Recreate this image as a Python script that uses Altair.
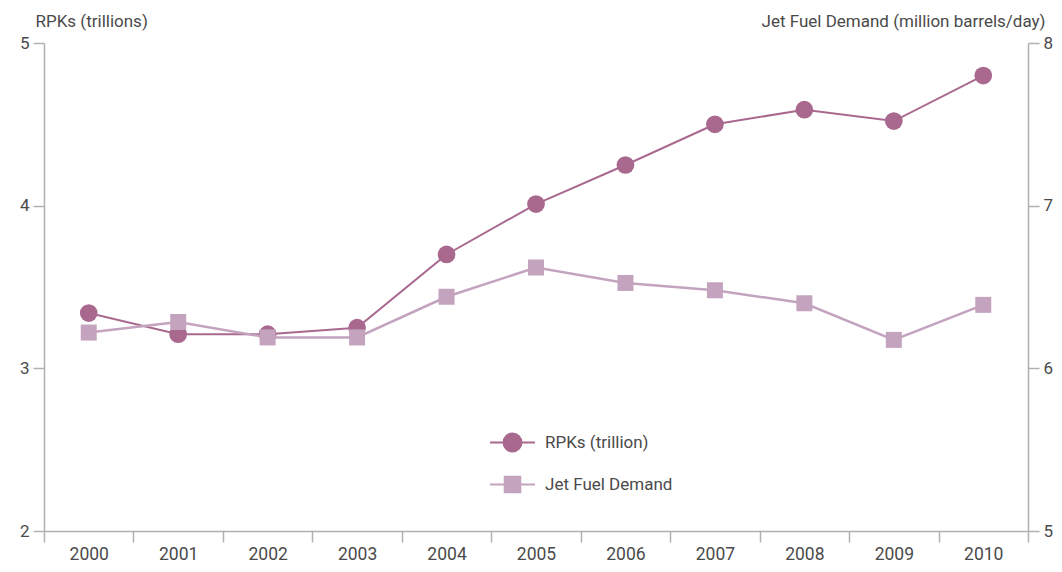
import altair as alt
import pandas as pd

years = ["2000", "2001", "2002", "2003", "2004", "2005", "2006", "2007", "2008", "2009", "2010"]
rpks = [3.34, 3.21, 3.21, 3.25, 3.70, 4.01, 4.25, 4.50, 4.59, 4.52, 4.80]
jet_fuel = [6.22, 6.285, 6.19, 6.19, 6.44, 6.62, 6.525, 6.48, 6.40, 6.175, 6.39]
series_names = ["RPKs (trillion)", "Jet Fuel Demand"]
series_colors = ["#a9698f", "#c4a3bf"]

FONT = "Roboto"
TXT = "#4a4a4a"
AX = "#b0b0b0"

df_r = pd.DataFrame({"year": years, "value": rpks, "series": series_names[0]})
df_j = pd.DataFrame({"year": years, "value": jet_fuel, "series": series_names[1]})

xenc = alt.X(
    "year:O",
    scale=alt.Scale(type="band", paddingInner=0, paddingOuter=0),
    axis=alt.Axis(
        title=None, labelAngle=0, tickBand="extent", domainColor=AX, tickColor=AX,
        domainWidth=1.5, tickWidth=1.5, tickSize=11, labelPadding=3,
        labelFontSize=17.5, labelColor=TXT, labelFont=FONT,
    ),
)

color_scale = alt.Scale(domain=series_names, range=series_colors)

circle_leg = "M-1.1,0L1.1,0M-0.44,0A0.44,0.44 0 1,1 0.44,0A0.44,0.44 0 1,1 -0.44,0Z"
square_leg = "M-1.1,0L1.1,0M-0.38,-0.38L0.38,-0.38L0.38,0.38L-0.38,0.38Z"

left_axis = alt.Axis(
    title="RPKs (trillions)", titleAngle=0, titleAlign="left", titleBaseline="bottom",
    titleX=-9, titleY=-13, titleFontSize=17, titleFontWeight="normal", titleColor=TXT,
    titleFont=FONT, values=[2, 3, 4, 5], format="d", grid=False, domainColor=AX,
    tickColor=AX, domainWidth=1.5, tickWidth=1.5, tickSize=11, labelPadding=4,
    labelFontSize=17, labelColor=TXT, labelFont=FONT,
)
right_axis = alt.Axis(
    orient="right",
    title="Jet Fuel Demand (million barrels/day)", titleAngle=0, titleAlign="right",
    titleBaseline="bottom", titleX=17, titleY=-13, titleFontSize=17,
    titleFontWeight="normal", titleColor=TXT, titleFont=FONT, values=[5, 6, 7, 8],
    format="d", grid=False, domainColor=AX, tickColor=AX, domainWidth=1.5,
    tickWidth=1.5, tickSize=11, labelPadding=4, labelFontSize=17, labelColor=TXT,
    labelFont=FONT,
)

y_left = alt.Y("value:Q", scale=alt.Scale(domain=[2, 5], nice=False, zero=False), axis=left_axis)
y_right = alt.Y("value:Q", scale=alt.Scale(domain=[5, 8], nice=False, zero=False), axis=right_axis)

def layer_for(df, yenc, shape, size, width):
    line = alt.Chart(df).mark_line(strokeWidth=width).encode(
        x=xenc, y=yenc,
        color=alt.Color("series:N", scale=color_scale, legend=None),
    )
    pts = alt.Chart(df).mark_point(filled=True, opacity=1, size=size, shape=shape).encode(
        x=xenc, y=yenc,
        color=alt.Color("series:N", scale=color_scale, legend=None),
    )
    return line + pts

left = layer_for(df_r, y_left, "circle", 314, 2)
right = layer_for(df_j, y_right, "square", 256, 2.5)

df_all = pd.concat([df_r, df_j])
legend_layer = alt.Chart(df_all).mark_point(filled=False, opacity=0, strokeWidth=2).encode(
    x=xenc,
    y=alt.Y("value:Q", scale=alt.Scale(domain=[2, 8]), axis=None),
    stroke=alt.Stroke("series:N", scale=alt.Scale(domain=series_names, range=series_colors),
                      legend=alt.Legend(title=None)),
    fill=alt.Fill("series:N", scale=alt.Scale(domain=series_names, range=series_colors),
                  legend=alt.Legend(title=None)),
    shape=alt.Shape("series:N", scale=alt.Scale(domain=series_names, range=[circle_leg, square_leg]),
                    legend=alt.Legend(title=None)),
)

chart = alt.layer(left, right, legend_layer).resolve_scale(
    y="independent", shape="independent", stroke="independent", fill="independent"
).properties(
    width=984, height=488,
    padding={"left": 36, "top": 35, "right": 26, "bottom": 33},
    autosize=alt.AutoSizeParams(type="none"),
).configure_view(stroke=None).configure_legend(
    orient="none", legendX=447, legendY=378, symbolSize=1673, symbolStrokeWidth=2,
    labelFontSize=17, labelColor=TXT, labelFont=FONT, labelOffset=11, rowPadding=7,
    padding=0, symbolOpacity=1,
)

chart.save("out.html", embed_options={"renderer": "svg", "actions": False})
